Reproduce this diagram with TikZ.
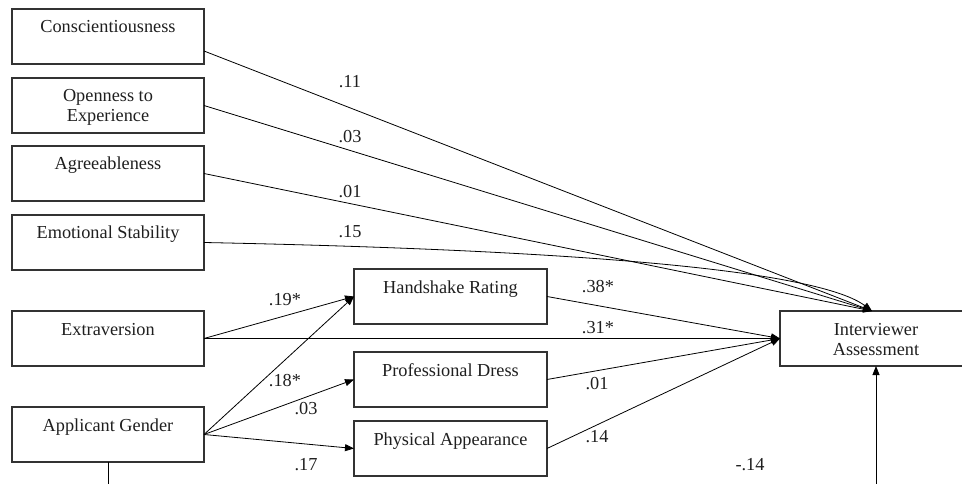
\documentclass[tikz,border=0pt]{standalone}
\usepackage{fontspec}
\setmainfont{Liberation Serif}
\usetikzlibrary{arrows.meta,calc}
\newcommand{\mybox}[2]{\parbox[c][55pt][t]{#1}{\centering\rule{0pt}{24pt}#2}}
\begin{document}
\begin{tikzpicture}[x=1pt,y=-1pt,
  box/.style={draw=black!80,line width=1.1pt,inner sep=0pt,outer sep=0pt,anchor=north west,text=black!88},
  lab/.style={inner sep=1pt,text=black!88},
  conn/.style={draw=black,line width=0.8pt,-{Triangle[length=9pt,width=7pt]}},
  font=\fontsize{18.3}{20}\selectfont]
\useasboundingbox (0,0) rectangle (962,484);
\clip (0,0) rectangle (962,484);
% left column
\node[box] (consc)  at (12,9)   {\mybox{192pt}{Conscientiousness}};
\node[box] (open)   at (12,78)  {\mybox{192pt}{Openness to\\Experience}};
\node[box] (agree)  at (12,146) {\mybox{192pt}{Agreeableness}};
\node[box] (emot)   at (12,215) {\mybox{192pt}{Emotional Stability}};
\node[box] (extra)  at (12,311) {\mybox{192pt}{Extraversion}};
\node[box] (gender) at (12,407) {\mybox{192pt}{Applicant Gender}};
% middle column
\node[box] (hand)  at (354,269) {\mybox{193pt}{Handshake Rating}};
\node[box] (dress) at (354,352) {\mybox{193pt}{Professional Dress}};
\node[box] (phys)  at (354,421) {\mybox{193pt}{Physical Appearance}};
% outcome
\node[box] (ia) at (780,311) {\mybox{192pt}{Interviewer\\Assessment}};
\coordinate (iatop) at ([xshift=-4pt]ia.north);
% paths to outcome top
\draw[conn] ([yshift=-14.5pt]consc.east) -- (iatop);
\draw[conn] (open.east) -- (iatop);
\draw[conn] (agree.east) -- (iatop);
\draw[conn] (emot.east) .. controls +(396,8) and +(-52,-39) .. (iatop);
% extraversion
\draw[conn] (extra.east) -- (ia.west);
\draw[conn] (extra.east) -- (hand.west);
% gender
\draw[conn] (gender.east) -- (hand.west);
\draw[conn] (gender.east) -- (dress.west);
\draw[conn] (gender.east) -- (phys.west);
% mediators
\draw[conn] (hand.east) -- (ia.west);
\draw[conn] (dress.east) -- (ia.west);
\draw[conn] (phys.east) -- (ia.west);
% gender direct
\draw[conn] (gender.south) -- ++(0,40) -| (ia.south);
% labels
\node[lab] (l1)  at (350,82)  {.11};
\node[lab] (l2)  at (350,137) {.03};
\node[lab] (l3)  at (350,192) {.01};
\node[lab] (l4)  at (350,232) {.15};
\node[lab] (l5)  at (285,300) {.19*};
\node[lab] (l6)  at (285,381) {.18*};
\node[lab] (l7)  at (306,409) {.03};
\node[lab] (l8)  at (306,465) {.17};
\node[lab] (l9)  at (598,287) {.38*};
\node[lab] (l10) at (598,328) {.31*};
\node[lab] (l11) at (597,384) {.01};
\node[lab] (l12) at (597,437) {.14};
\node[lab] (l13) at (750,465) {-.14};
\end{tikzpicture}
\end{document}
